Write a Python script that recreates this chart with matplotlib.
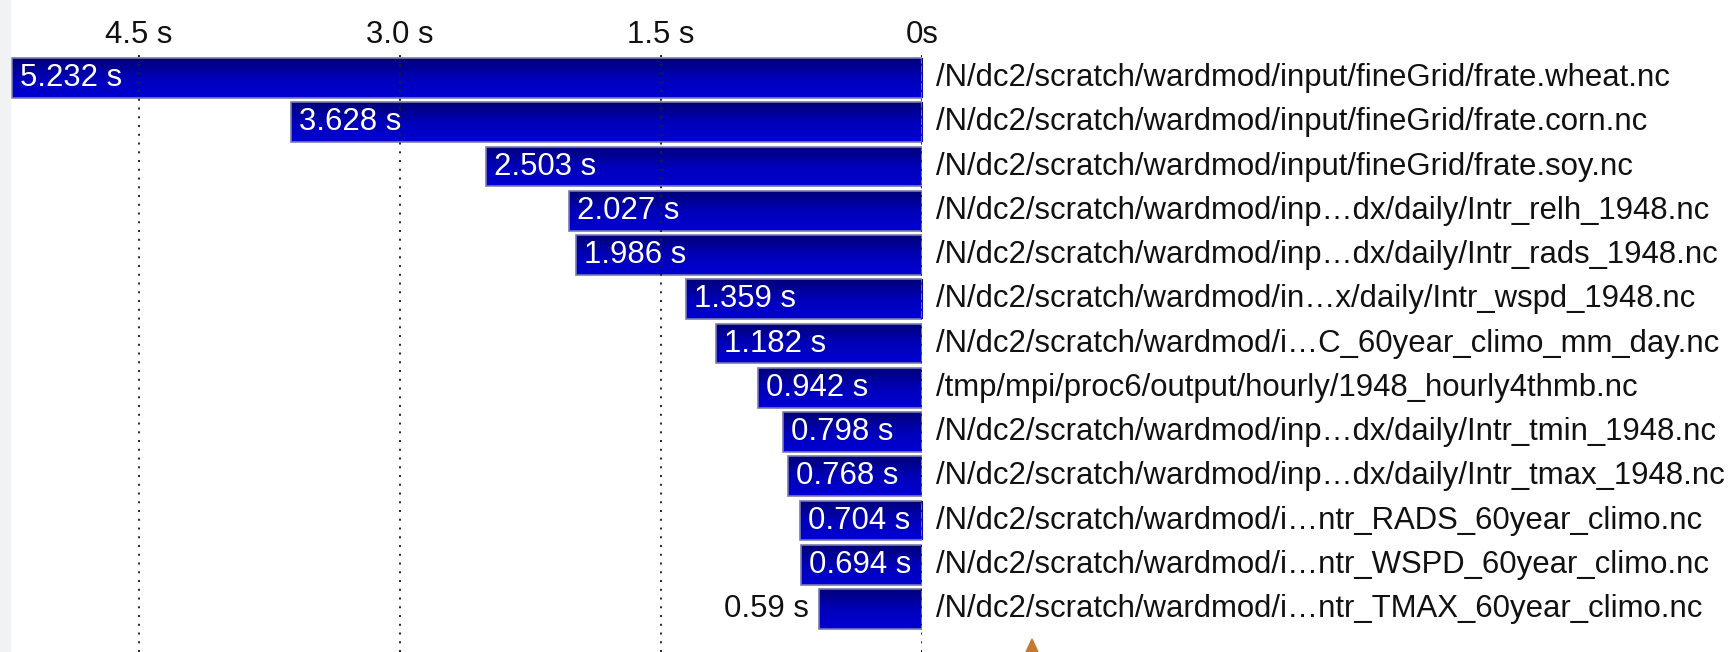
import numpy as np
import matplotlib
matplotlib.use('Agg')
import matplotlib.pyplot as plt
from matplotlib.colors import LinearSegmentedColormap
from matplotlib.patches import Rectangle, Polygon

plt.rcParams['font.family'] = ['Liberation Sans', 'DejaVu Sans']

# time spent per file (seconds), longest first
seconds = [5.232, 3.628, 2.503, 2.027, 1.986, 1.359, 1.182, 0.942,
           0.798, 0.768, 0.704, 0.694, 0.59]
files = [
    '/N/dc2/scratch/wardmod/input/fineGrid/frate.wheat.nc',
    '/N/dc2/scratch/wardmod/input/fineGrid/frate.corn.nc',
    '/N/dc2/scratch/wardmod/input/fineGrid/frate.soy.nc',
    '/N/dc2/scratch/wardmod/inp\u2026dx/daily/Intr_relh_1948.nc',
    '/N/dc2/scratch/wardmod/inp\u2026dx/daily/Intr_rads_1948.nc',
    '/N/dc2/scratch/wardmod/in\u2026x/daily/Intr_wspd_1948.nc',
    '/N/dc2/scratch/wardmod/i\u2026C_60year_climo_mm_day.nc',
    '/tmp/mpi/proc6/output/hourly/1948_hourly4thmb.nc',
    '/N/dc2/scratch/wardmod/inp\u2026dx/daily/Intr_tmin_1948.nc',
    '/N/dc2/scratch/wardmod/inp\u2026dx/daily/Intr_tmax_1948.nc',
    '/N/dc2/scratch/wardmod/i\u2026ntr_RADS_60year_climo.nc',
    '/N/dc2/scratch/wardmod/i\u2026ntr_WSPD_60year_climo.nc',
    '/N/dc2/scratch/wardmod/i\u2026ntr_TMAX_60year_climo.nc',
]
tick_vals = [4.5, 3.0, 1.5, 0.0]
tick_labels = ['4.5 s', '3.0 s', '1.5 s', '0s']

W, H = 1731, 652
FS = 22.4
fig = plt.figure(figsize=(W / 100, H / 100), dpi=100)
fig.patch.set_facecolor('white')

# axes: zero line at x=922px, 174 px per second, rows 44.25 px apart
ax = fig.add_axes([0, 0, 922 / W, (H - 53) / H])
rows = np.arange(len(seconds))
bar_h = 0.9

grad = np.linspace(0, 1, 64).reshape(-1, 1)
cmap = LinearSegmentedColormap.from_list('bar', ['#000078', '#0000b8', '#0000d4'])

min_inside = 0.65
for i, v in zip(rows, seconds):
    bar = ax.barh(i, v, height=bar_h, color='#0000a8', edgecolor='none', zorder=2)[0]
    im = ax.imshow(grad, cmap=cmap, aspect='auto', interpolation='bilinear',
                   extent=(0, v, i + bar_h / 2, i - bar_h / 2), zorder=2.2)
    im.set_clip_path(bar)
    ax.barh(i, v, height=bar_h, facecolor='none', edgecolor='#7a7ab0',
            linewidth=1.2, zorder=2.4)
    label = f'{v:g} s'
    if v >= min_inside:
        ax.annotate(label, xy=(v, i), xytext=(8, 0), textcoords='offset pixels',
                    ha='left', va='center', color='white', fontsize=FS, zorder=5)
    else:
        ax.annotate(label, xy=(v, i), xytext=(-10, 0), textcoords='offset pixels',
                    ha='right', va='center', color='#111111', fontsize=FS, zorder=5)
    ax.annotate(files[i], xy=(0, i), xytext=(14, 0), textcoords='offset pixels',
                ha='left', va='center', color='#111111', fontsize=FS,
                annotation_clip=False, zorder=5)

for t in tick_vals:
    ax.axvline(t, color='#222222', linewidth=1.4, linestyle=(0, (1, 3.5)), zorder=3)

ax.set_xlim(922 / 174, 0)
ax.set_ylim(12.97, -0.565)
ax.xaxis.tick_top()
ax.set_xticks(tick_vals)
ax.set_xticklabels(tick_labels, fontsize=FS, color='#111111')
ax.tick_params(axis='x', length=0, pad=2)
ax.set_yticks([])
for s in ax.spines.values():
    s.set_visible(False)
ax.patch.set_alpha(0)

# light strip at the left edge and the arrow tip at the bottom of the screenshot
fig.patches.append(Rectangle((0, 0), 10 / W, 1, transform=fig.transFigure,
                             color='#f1f2f4', zorder=0))
fig.patches.append(Polygon([(1026 / W, 0), (1038 / W, 0), (1032 / W, 13 / H)],
                           closed=True, transform=fig.transFigure,
                           color='#c47a34', zorder=5))

fig.savefig('out.png', dpi=100)
